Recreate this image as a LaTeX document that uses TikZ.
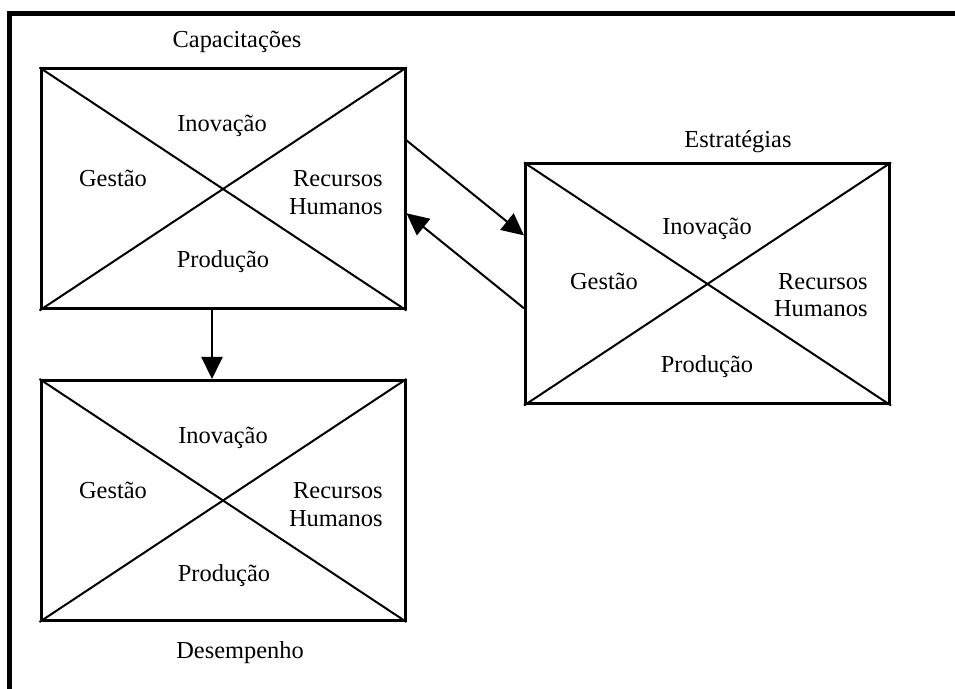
\documentclass[tikz,border=0pt]{standalone}
\usepackage{fontspec}
\setmainfont{Liberation Serif}
\usetikzlibrary{arrows.meta,calc}
\begin{document}
\begin{tikzpicture}[x=0.5pt,y=-0.5pt,
  xbox/.style={draw,line width=1.5pt,rectangle,inner sep=0pt,minimum width=182pt,minimum height=120pt},
  diag/.style={line width=1pt},
  lbl/.style={inner sep=0pt,anchor=base,font=\fontsize{12.2}{14}\selectfont},
  lblr/.style={inner sep=0pt,anchor=base east,font=\fontsize{12.2}{14}\selectfont},
  conn/.style={line width=1pt,-{Triangle[length=11pt,width=10.5pt]}}]
\clip (0,0) rectangle (955,689);
\fill[white] (0,0) rectangle (955,689);
% outer frame (cut at right and bottom)
\draw[line width=2.5pt] (9.5,720) -- (9.5,13.5) -- (980,13.5);
% boxes
\node[xbox] (c1) at (223,189) {};
\node[xbox] (c2) at (223,500.5) {};
\node[xbox] (c3) at (707.5,284) {};
\foreach \b in {c1,c2,c3}{
  \draw[diag] (\b.north west) -- (\b.south east);
  \draw[diag] (\b.south west) -- (\b.north east);
}
% titles
\node[lbl] (t1) at (237,48) {Capacitações};
\node[lbl] (t2) at (240,659) {Desempenho};
\node[lbl] (t3) at (738,148) {Estratégias};
% box 1 labels
\node[lbl] (i1) at (222,132) {Inovação};
\node[lbl] (g1) at (113,187) {Gestão};
\node[lblr] (r1) at (383,187) {Recursos};
\node[lblr] (h1) at (383,215) {Humanos};
\node[lbl] (p1) at (223,268) {Produção};
% box 2 labels
\node[lbl] (i2) at (223,444) {Inovação};
\node[lbl] (g2) at (113,499) {Gestão};
\node[lblr] (r2) at (383,499) {Recursos};
\node[lblr] (h2) at (383,527) {Humanos};
\node[lbl] (p2) at (224,582) {Produção};
% box 3 labels
\node[lbl] (i3) at (707,235) {Inovação};
\node[lbl] (g3) at (604,290) {Gestão};
\node[lblr] (r3) at (868,290) {Recursos};
\node[lblr] (h3) at (868,317) {Humanos};
\node[lbl] (p3) at (707,373) {Produção};
% connectors
\draw[conn] ($(c1.north east)!0.3!(c1.south east)$) -- ($(c3.north west)!0.3!(c3.south west)$);
\draw[conn] ($(c3.north west)!0.6!(c3.south west)$) -- ($(c1.north east)!0.6!(c1.south east)$);
\draw[conn] ($(c1.south west)!0.47!(c1.south east)$) -- ($(c2.north west)!0.47!(c2.north east)$);
\end{tikzpicture}
\end{document}
